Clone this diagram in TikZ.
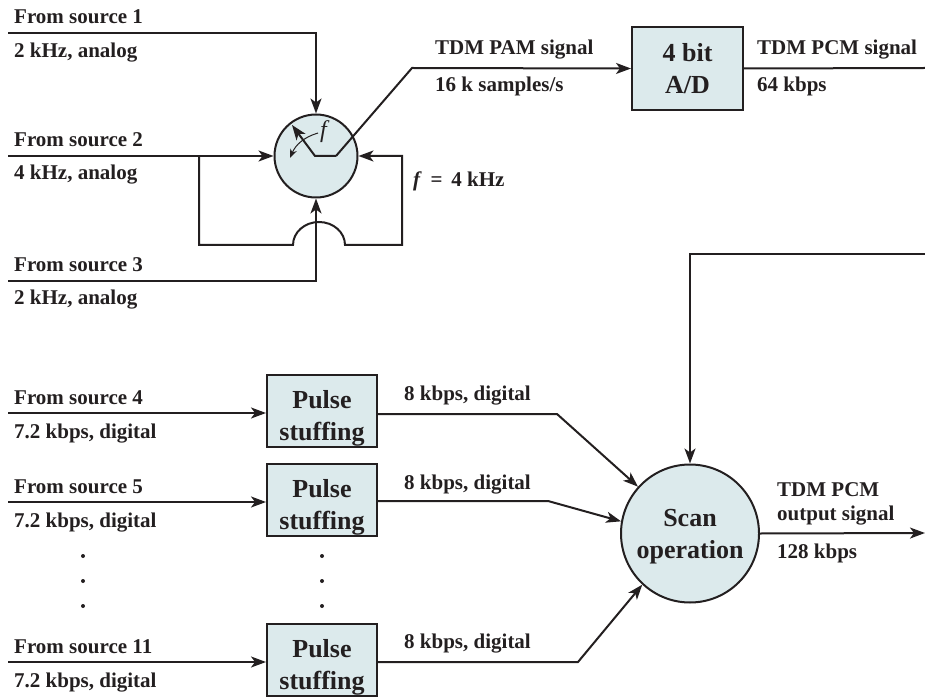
\documentclass[tikz,border=0pt]{standalone}
\usepackage{fontspec}
\setmainfont{Liberation Serif}
\usetikzlibrary{
  arrows.meta,
  calc,
  positioning
}
\definecolor{boxfill}{RGB}{220,234,236}
\definecolor{ink}{RGB}{35,31,32}
\tikzset{>={Stealth[length=15pt, width=11pt, inset=4pt]}}
\tikzset{line/.style={draw=ink, line width=2pt}}
\tikzset{label/.style={anchor=base west, inner sep=0pt, text=ink, font=\fontsize{21}{24}\selectfont\bfseries}}
\tikzset{block/.style={draw=ink, line width=2pt, fill=boxfill, align=center, text=ink, inner sep=0pt, text depth=0pt, font=\fontsize{26}{32}\selectfont\bfseries}}
\tikzset{dotmark/.style={circle, fill=ink, inner sep=0pt, minimum size=4pt}}

\begin{document}
\begin{tikzpicture}[x=1pt, y=-1pt]
  \useasboundingbox (0, 0) rectangle (925, 700);
  % free ends
  \coordinate (in1) at (8, 33); \coordinate (in1c) at (316, 33);
  \coordinate (in2) at (8, 156); \coordinate (tap) at (199, 156);
  \coordinate (in3) at (8, 281); \coordinate (in3c) at (316, 281);
  \coordinate (in4) at (8, 413);
  \coordinate (in5) at (8, 502);
  \coordinate (in11) at (8, 662);
  \coordinate (tdmout) at (925, 68);
  \coordinate (tdmin) at (925, 254); \coordinate (tdmc) at (690, 254);
  \coordinate (scanout) at (925, 533);
  % blocks
  \node[block, circle, minimum size=83pt] (sw) at (316, 156) {};
  \node[block, minimum width=111pt, minimum height=83pt, text height=51pt] (ad) at (687.5, 68.5) {4 bit\\A/D};
  \node[block, minimum width=110pt, minimum height=72pt, text height=58pt] (ps4) at (322, 411) {Pulse\\stuffing};
  \node[block, minimum width=110pt, minimum height=72pt, text height=58pt] (ps5) at (322, 500) {Pulse\\stuffing};
  \node[block, minimum width=110pt, minimum height=72pt, text height=58pt] (ps11) at (322, 660) {Pulse\\stuffing};
  \node[block, circle, minimum size=138pt, text height=49pt] (scan) at (690, 533.5) {Scan\\operation};
  % source 1 to 3
  \draw[line, ->] (in1) -- (in1c) -- (sw.north);
  \draw[line, ->] (in2) -- (sw.west);
  \draw[line, ->] (in3) -- (in3c) -- (sw.south);
  % clock line with hop
  \coordinate (hopl) at (293, 245); \coordinate (hopr) at (345, 245);
  \coordinate (loopr) at (402, 245); \coordinate (loopt) at (402, 156);
  \draw[line, ->] (tap) |- (hopl) arc[x radius=26, y radius=23, start angle=180, end angle=360] -- (loopr) -- (loopt) -- (sw.east);
  % switch arm
  \coordinate (armtip) at (292, 125); \coordinate (arma) at (315, 156); \coordinate (armb) at (336, 156);
  \coordinate (turn) at (412, 68);
  \draw[line, ->] (armb) -- (arma) -- (armtip);
  \draw[line, ->] (armb) -- (turn) -- (ad.west);
  \node[label, font=\fontsize{24}{24}\selectfont\itshape] (fsw) at (320, 138) {f};
  \coordinate (fa) at (318, 133); \coordinate (fb) at (290, 158);
  \draw[draw=ink, line width=1pt, -{Stealth[length=9pt, width=7pt]}] (fa) to[bend right=25] (fb);
  \draw[line] (ad.east) -- (tdmout);
  \draw[line, ->] (tdmin) -- (tdmc) -- (scan.north);
  \draw[line, ->] (scan.east) -- (scanout);
  % pulse stuffing inputs and outputs
  \draw[line, ->] (in4) -- (ps4.west |- in4);
  \draw[line, ->] (in5) -- (ps5.west |- in5);
  \draw[line, ->] (in11) -- (ps11.west |- in11);
  \coordinate (k4) at (557, 414); \coordinate (k5) at (548, 501); \coordinate (k11) at (578, 662);
  \draw[line, ->] (ps4.east |- k4) -- (k4) -- (scan.138);
  \draw[line, ->] (ps5.east |- k5) -- (k5) -- (scan.170);
  \draw[line, ->] (ps11.east |- k11) -- (k11) -- (scan.227);
  % labels
  \node[label] (s1) at (14, 24) {From source 1};
  \node[label] (r1) at (14, 58) {2 kHz, analog};
  \node[label] (s2) at (14, 147) {From source 2};
  \node[label] (r2) at (14, 180) {4 kHz, analog};
  \node[label] (s3) at (14, 272) {From source 3};
  \node[label] (r3) at (14, 305) {2 kHz, analog};
  \node[label] (s4) at (14, 404) {From source 4};
  \node[label] (r4) at (14, 438) {7.2 kbps, digital};
  \node[label] (s5) at (14, 493) {From source 5};
  \node[label] (r5) at (14, 527) {7.2 kbps, digital};
  \node[label] (s11) at (14, 653) {From source 11};
  \node[label] (r11) at (14, 687) {7.2 kbps, digital};
  \node[label] (pam) at (435, 55) {TDM PAM signal};
  \node[label] (pamr) at (435, 92) {16 k samples/s};
  \node[label] (pcm) at (757, 55) {TDM PCM signal};
  \node[label] (pcmr) at (757, 92) {64 kbps};
  \node[label] (fval) at (413, 187) {\textit{f}\, =\, 4 kHz};
  \node[label] (d4) at (404, 400) {8 kbps, digital};
  \node[label] (d5) at (404, 489) {8 kbps, digital};
  \node[label] (d11) at (404, 648) {8 kbps, digital};
  \node[label] (outa) at (777, 496) {TDM PCM};
  \node[label] (outb) at (777, 520) {output signal};
  \node[label] (outr) at (777, 558) {128 kbps};
  % dots
  \foreach \y/\n in {556/a, 581/b, 606/c} {
    \node[dotmark] (dl\n) at (83, \y) {};
    \node[dotmark] (dr\n) at (322, \y) {};
  }
\end{tikzpicture}
\end{document}
